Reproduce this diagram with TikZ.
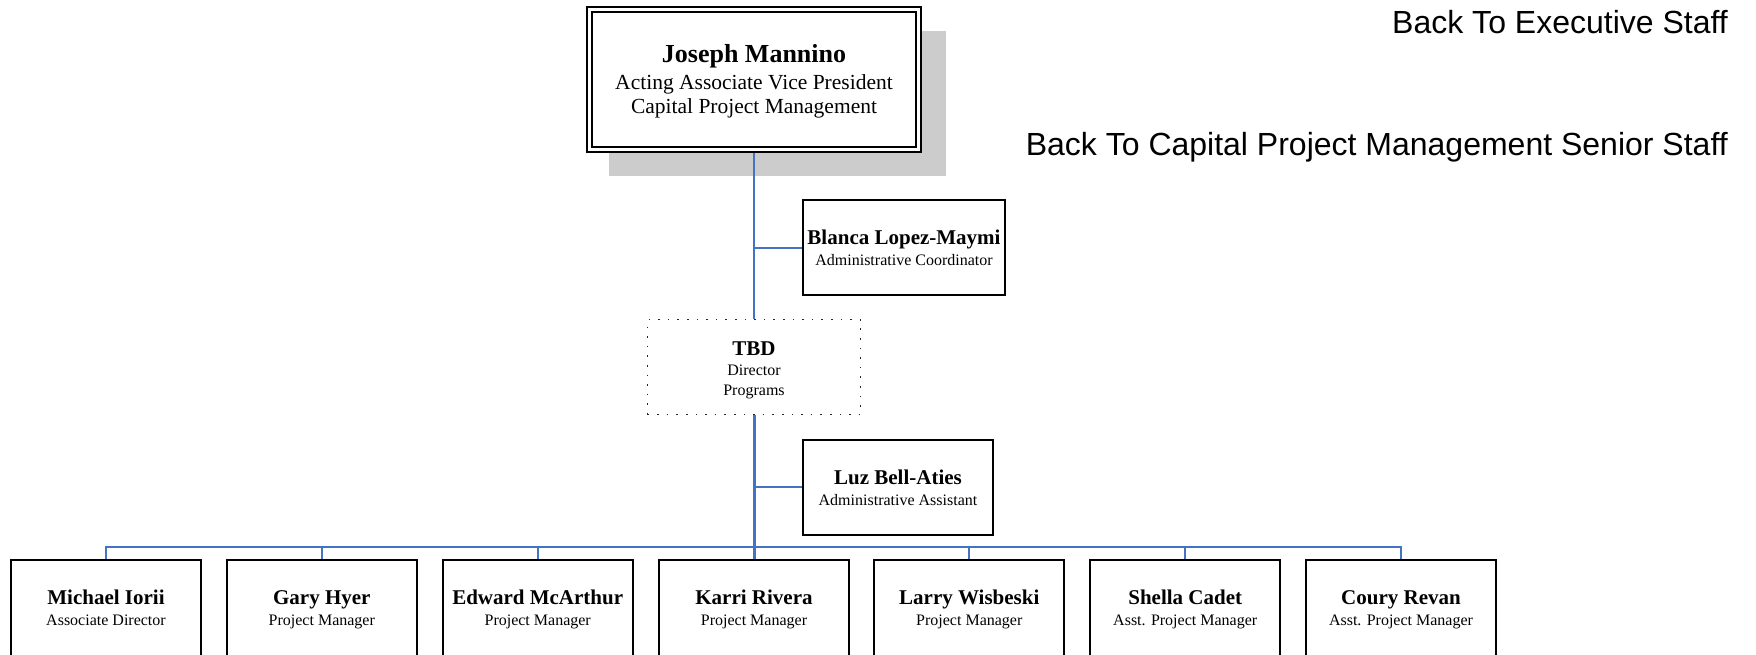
\documentclass[tikz,border=0pt]{standalone}
\usepackage{fontspec}
\setmainfont{Liberation Serif}
\newfontfamily\arialf{Liberation Sans}
\usetikzlibrary{backgrounds}
\definecolor{conn}{HTML}{4472C4}
\definecolor{shadowgray}{HTML}{CCCCCC}
\tikzset{
  box/.style={draw=black, line width=2pt, fill=white, inner sep=0pt, rectangle},
  botbox/.style={box, minimum width=190pt, minimum height=110pt},
  dotbox/.style={draw=black!85, line width=1.6pt, dash pattern=on 1.6pt off 8pt, fill=white, inner sep=0pt, rectangle},
  link/.style={draw=conn, line width=2pt},
  nm/.style={anchor=base, inner sep=0pt, font=\fontsize{21}{24}\selectfont\bfseries},
  tl/.style={anchor=base, inner sep=0pt, font=\fontsize{16}{19}\selectfont},
  bignm/.style={anchor=base, inner sep=0pt, font=\fontsize{26}{30}\selectfont\bfseries},
  bigtl/.style={anchor=base, inner sep=0pt, font=\fontsize{21.5}{25}\selectfont},
  navtxt/.style={anchor=base east, inner sep=0pt, font=\arialf\fontsize{32}{36}\selectfont},
}
\begin{document}
\begin{tikzpicture}[x=1pt,y=-1pt]
\useasboundingbox (0,0) rectangle (1756,654);
\clip (0,0) rectangle (1756,654);

% boxes
\node[box, double, double distance=3pt, minimum width=329pt, minimum height=140pt] (jm) at (754,79.5) {};
\node[box, minimum width=202pt, minimum height=95pt] (bl) at (904,247.5) {};
\node[dotbox, minimum width=213pt, minimum height=95pt] (tbd) at (754,367) {};
\node[box, minimum width=190pt, minimum height=95pt] (lz) at (898,487) {};

\node[botbox] (b1) at (106,615) {};
\node[botbox] (b2) at (321.8,615) {};
\node[botbox] (b3) at (537.7,615) {};
\node[botbox] (b4) at (754,615) {};
\node[botbox] (b5) at (969.3,615) {};
\node[botbox] (b6) at (1185.2,615) {};
\node[botbox] (b7) at (1401,615) {};

\coordinate (bus) at (754,546.7);

% shadow and connectors behind boxes
\begin{scope}[on background layer]
  \fill[shadowgray] (609,31) rectangle (946,176);
  \draw[link] (jm.south) -- (tbd.north);
  \draw[link] (jm.south |- bl.west) -- (bl.west);
  \draw[link, line width=3pt] (tbd.south) -- (b4.north);
  \draw[link] (tbd.south |- lz.west) -- (lz.west);
  \draw[link] (b1.north) -- (b1.north |- bus) -- (b7.north |- bus) -- (b7.north);
  \draw[link] (b2.north) -- (b2.north |- bus);
  \draw[link] (b3.north) -- (b3.north |- bus);
  \draw[link] (b5.north) -- (b5.north |- bus);
  \draw[link] (b6.north) -- (b6.north |- bus);
\end{scope}

% texts
\node[bignm] (jmn) at (754,62) {Joseph Mannino};
\node[bigtl] (jmt1) at (754,89) {Acting Associate Vice President};
\node[bigtl] (jmt2) at (754,113) {Capital Project Management};

\node[nm] (bln) at (904,244) {Blanca Lopez-Maymi};
\node[tl] (blt) at (904,265) {Administrative Coordinator};

\node[nm] (tbdn) at (754,355) {TBD};
\node[tl] (tbdt1) at (754,375) {Director};
\node[tl] (tbdt2) at (754,395) {Programs};

\node[nm] (lzn) at (898,484) {Luz Bell-Aties};
\node[tl] (lzt) at (898,505) {Administrative Assistant};

\node[nm] (b1n) at (106,604) {Michael Iorii};
\node[tl] (b1t) at (106,625) {Associate Director};
\node[nm] (b2n) at (321.8,604) {Gary Hyer};
\node[tl] (b2t) at (321.8,625) {Project Manager};
\node[nm] (b3n) at (537.7,604) {Edward McArthur};
\node[tl] (b3t) at (537.7,625) {Project Manager};
\node[nm] (b4n) at (754,604) {Karri Rivera};
\node[tl] (b4t) at (754,625) {Project Manager};
\node[nm] (b5n) at (969.3,604) {Larry Wisbeski};
\node[tl] (b5t) at (969.3,625) {Project Manager};
\node[nm] (b6n) at (1185.2,604) {Shella Cadet};
\node[tl] (b6t) at (1185.2,625) {Asst. Project Manager};
\node[nm] (b7n) at (1401,604) {Coury Revan};
\node[tl] (b7t) at (1401,625) {Asst. Project Manager};

\node[navtxt] (nav1) at (1728,33) {Back To Executive Staff};
\node[navtxt] (nav2) at (1728,155) {Back To Capital Project Management Senior Staff};
\end{tikzpicture}
\end{document}
